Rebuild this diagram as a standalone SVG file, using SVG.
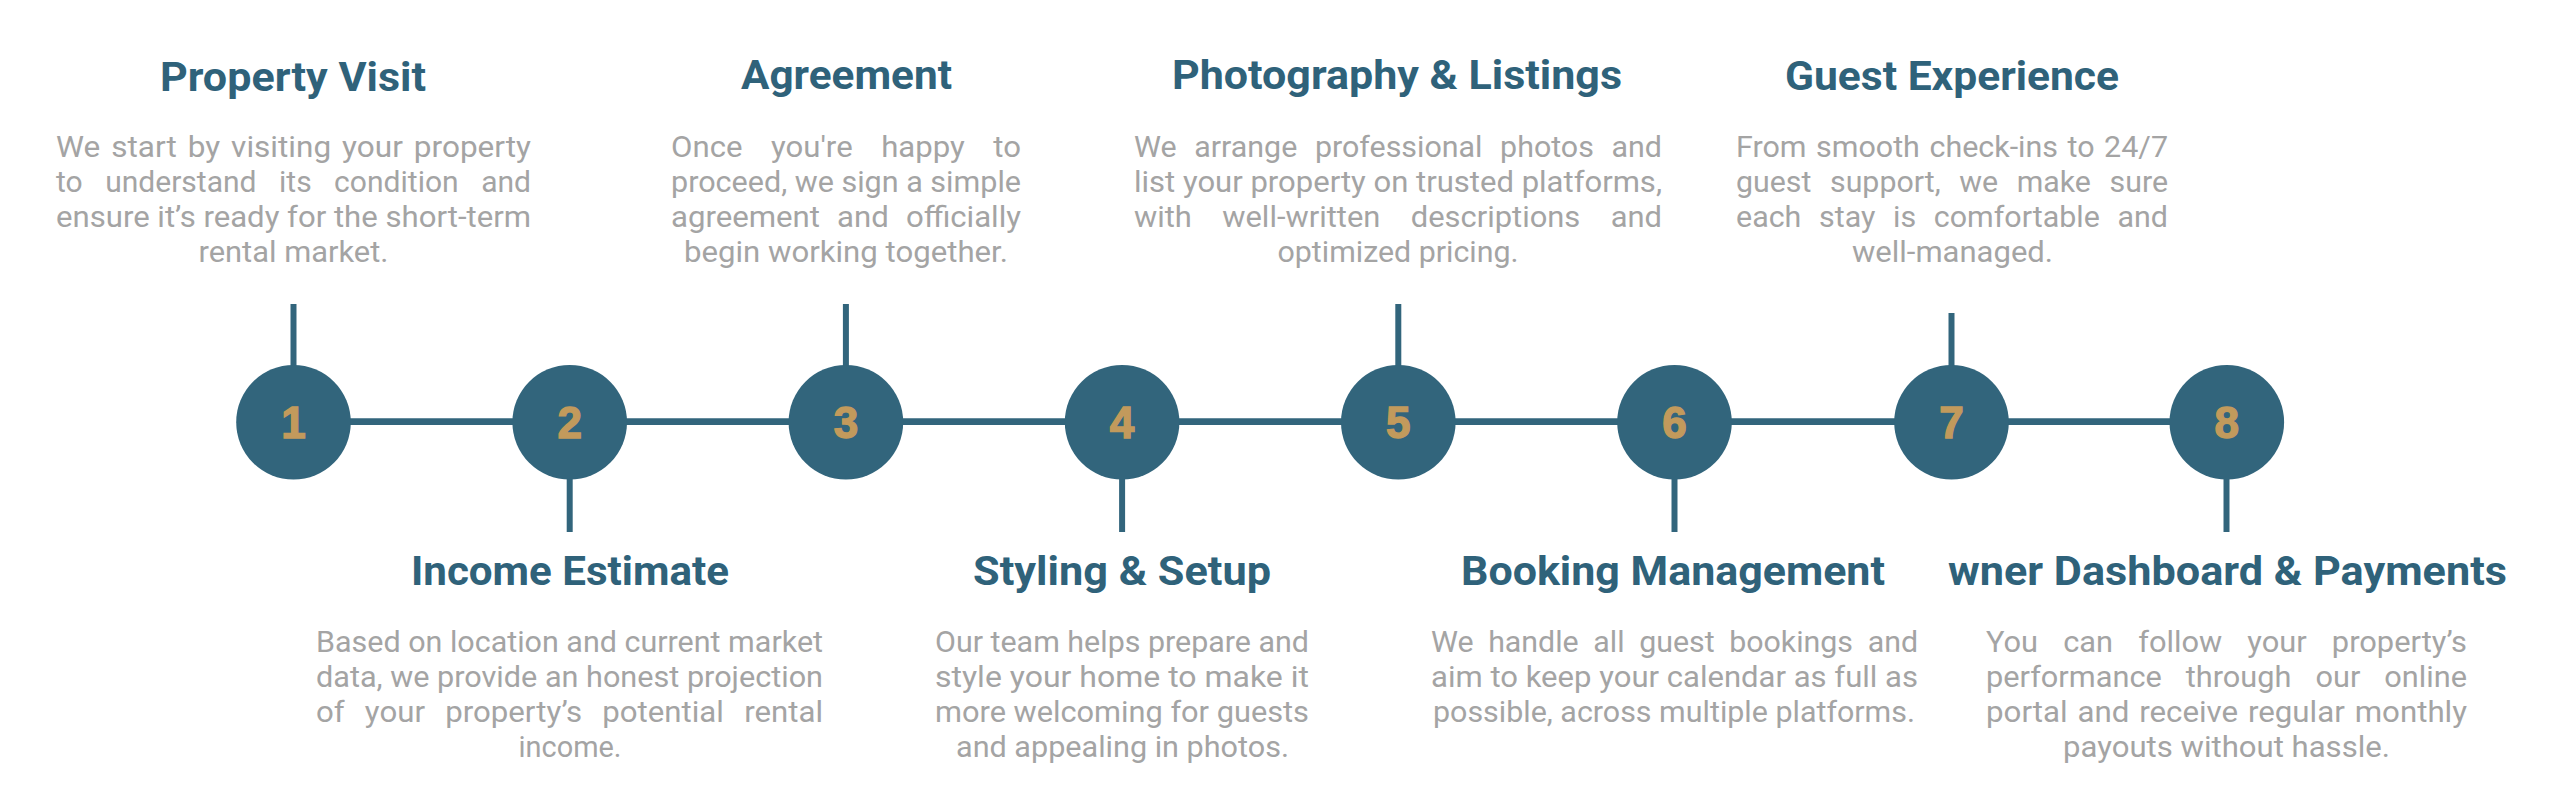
<svg xmlns="http://www.w3.org/2000/svg" width="2560" height="798" viewBox="0 0 2560 798">
<style>
.bg{fill:#ffffff}
.ln{stroke:#32657c;fill:none}
.main{stroke-width:6.7}
.stub{stroke-width:6}
.dot{fill:#32657c}
.num{font-family:"Liberation Sans",Arial,sans-serif;font-weight:700;font-size:44px;fill:#c29a5c;stroke:#c29a5c;stroke-width:1.4;text-anchor:middle}
.title{font-family:Roboto,"Liberation Sans",sans-serif;font-weight:700;font-size:41px;fill:#2f627a}
.body{font-family:Roboto,"Liberation Sans",sans-serif;font-size:30px;fill:#a4a4a4}
.c{text-anchor:middle}
</style>
<rect class="bg" x="0" y="0" width="2560" height="798"/>
<g id="connectors">
<line class="ln main" x1="293.5" y1="421.7" x2="2227" y2="421.7"/>
<line class="ln stub" x1="293.5" y1="304" x2="293.5" y2="366"/>
<line class="ln stub" x1="569.7" y1="478" x2="569.7" y2="532"/>
<line class="ln stub" x1="845.9" y1="304" x2="845.9" y2="366"/>
<line class="ln stub" x1="1122.1" y1="478" x2="1122.1" y2="532"/>
<line class="ln stub" x1="1398.3" y1="304" x2="1398.3" y2="366"/>
<line class="ln stub" x1="1674.5" y1="478" x2="1674.5" y2="532"/>
<line class="ln stub" x1="1951.5" y1="313" x2="1951.5" y2="366"/>
<line class="ln stub" x1="2226.5" y1="478" x2="2226.5" y2="532"/>
</g>
<g id="step1">
<circle class="dot" cx="293.5" cy="422.2" r="57.3"/>
<text class="num" x="293.5" y="438.3">1</text>
<text class="title c" x="293" y="91" textLength="266" lengthAdjust="spacingAndGlyphs">Property Visit</text>
<text class="body" x="56" y="157" word-spacing="3" textLength="475" lengthAdjust="spacingAndGlyphs">We start by visiting your property</text>
<text class="body" x="56" y="192" word-spacing="15" textLength="475" lengthAdjust="spacingAndGlyphs">to understand its condition and</text>
<text class="body" x="56" y="227" textLength="475" lengthAdjust="spacingAndGlyphs">ensure it’s ready for the short-term</text>
<text class="body c" x="293.5" y="262" textLength="190" lengthAdjust="spacingAndGlyphs">rental market.</text>
</g>
<g id="step2">
<circle class="dot" cx="569.7" cy="422.2" r="57.3"/>
<text class="num" x="569.7" y="438.3">2</text>
<text class="title c" x="570" y="585" textLength="318" lengthAdjust="spacingAndGlyphs">Income Estimate</text>
<text class="body" x="316" y="652" textLength="507" lengthAdjust="spacingAndGlyphs">Based on location and current market</text>
<text class="body" x="316" y="687" textLength="507" lengthAdjust="spacingAndGlyphs">data, we provide an honest projection</text>
<text class="body" x="316" y="722" word-spacing="12" textLength="507" lengthAdjust="spacingAndGlyphs">of your property’s potential rental</text>
<text class="body c" x="570" y="757" textLength="103" lengthAdjust="spacingAndGlyphs">income.</text>
</g>
<g id="step3">
<circle class="dot" cx="845.9" cy="422.2" r="57.3"/>
<text class="num" x="845.9" y="438.3">3</text>
<text class="title c" x="846.5" y="89" textLength="211" lengthAdjust="spacingAndGlyphs">Agreement</text>
<text class="body" x="671" y="157" word-spacing="20" textLength="350" lengthAdjust="spacingAndGlyphs">Once you're happy to</text>
<text class="body" x="671" y="192" textLength="350" lengthAdjust="spacingAndGlyphs">proceed, we sign a simple</text>
<text class="body" x="671" y="227" word-spacing="9" textLength="350" lengthAdjust="spacingAndGlyphs">agreement and officially</text>
<text class="body c" x="846" y="262" textLength="324" lengthAdjust="spacingAndGlyphs">begin working together.</text>
</g>
<g id="step4">
<circle class="dot" cx="1122.1" cy="422.2" r="57.3"/>
<text class="num" x="1122.1" y="438.3">4</text>
<text class="title c" x="1122" y="585" textLength="298" lengthAdjust="spacingAndGlyphs">Styling &amp; Setup</text>
<text class="body" x="935" y="652" textLength="374" lengthAdjust="spacingAndGlyphs">Our team helps prepare and</text>
<text class="body" x="935" y="687" textLength="374" lengthAdjust="spacingAndGlyphs">style your home to make it</text>
<text class="body" x="935" y="722" textLength="374" lengthAdjust="spacingAndGlyphs">more welcoming for guests</text>
<text class="body c" x="1122.5" y="757" textLength="333" lengthAdjust="spacingAndGlyphs">and appealing in photos.</text>
</g>
<g id="step5">
<circle class="dot" cx="1398.3" cy="422.2" r="57.3"/>
<text class="num" x="1398.3" y="438.3">5</text>
<text class="title c" x="1397" y="89" textLength="450" lengthAdjust="spacingAndGlyphs">Photography &amp; Listings</text>
<text class="body" x="1134" y="157" word-spacing="10" textLength="528" lengthAdjust="spacingAndGlyphs">We arrange professional photos and</text>
<text class="body" x="1134" y="192" textLength="528" lengthAdjust="spacingAndGlyphs">list your property on trusted platforms,</text>
<text class="body" x="1134" y="227" word-spacing="22" textLength="528" lengthAdjust="spacingAndGlyphs">with well-written descriptions and</text>
<text class="body c" x="1398" y="262" textLength="241" lengthAdjust="spacingAndGlyphs">optimized pricing.</text>
</g>
<g id="step6">
<circle class="dot" cx="1674.5" cy="422.2" r="57.3"/>
<text class="num" x="1674.5" y="438.3">6</text>
<text class="title c" x="1673" y="585" textLength="424" lengthAdjust="spacingAndGlyphs">Booking Management</text>
<text class="body" x="1431" y="652" word-spacing="7" textLength="487" lengthAdjust="spacingAndGlyphs">We handle all guest bookings and</text>
<text class="body" x="1431" y="687" textLength="487" lengthAdjust="spacingAndGlyphs">aim to keep your calendar as full as</text>
<text class="body c" x="1674" y="722" textLength="482" lengthAdjust="spacingAndGlyphs">possible, across multiple platforms.</text>
</g>
<g id="step7">
<circle class="dot" cx="1951.5" cy="422.2" r="57.3"/>
<text class="num" x="1951.5" y="438.3">7</text>
<text class="title c" x="1952" y="90" textLength="334" lengthAdjust="spacingAndGlyphs">Guest Experience</text>
<text class="body" x="1736" y="157" word-spacing="2" textLength="432" lengthAdjust="spacingAndGlyphs">From smooth check-ins to 24/7</text>
<text class="body" x="1736" y="192" word-spacing="11" textLength="432" lengthAdjust="spacingAndGlyphs">guest support, we make sure</text>
<text class="body" x="1736" y="227" word-spacing="10" textLength="432" lengthAdjust="spacingAndGlyphs">each stay is comfortable and</text>
<text class="body c" x="1952.5" y="262" textLength="201" lengthAdjust="spacingAndGlyphs">well-managed.</text>
</g>
<g id="step8">
<circle class="dot" cx="2226.8" cy="422.2" r="57.3"/>
<text class="num" x="2226.8" y="438.3">8</text>
<text class="title" x="1948" y="585" textLength="559" lengthAdjust="spacingAndGlyphs">wner Dashboard &amp; Payments</text>
<text class="body" x="1986" y="652" word-spacing="17" textLength="481" lengthAdjust="spacingAndGlyphs">You can follow your property’s</text>
<text class="body" x="1986" y="687" word-spacing="16" textLength="481" lengthAdjust="spacingAndGlyphs">performance through our online</text>
<text class="body" x="1986" y="722" word-spacing="2" textLength="481" lengthAdjust="spacingAndGlyphs">portal and receive regular monthly</text>
<text class="body c" x="2226.5" y="757" textLength="327" lengthAdjust="spacingAndGlyphs">payouts without hassle.</text>
</g>
</svg>
